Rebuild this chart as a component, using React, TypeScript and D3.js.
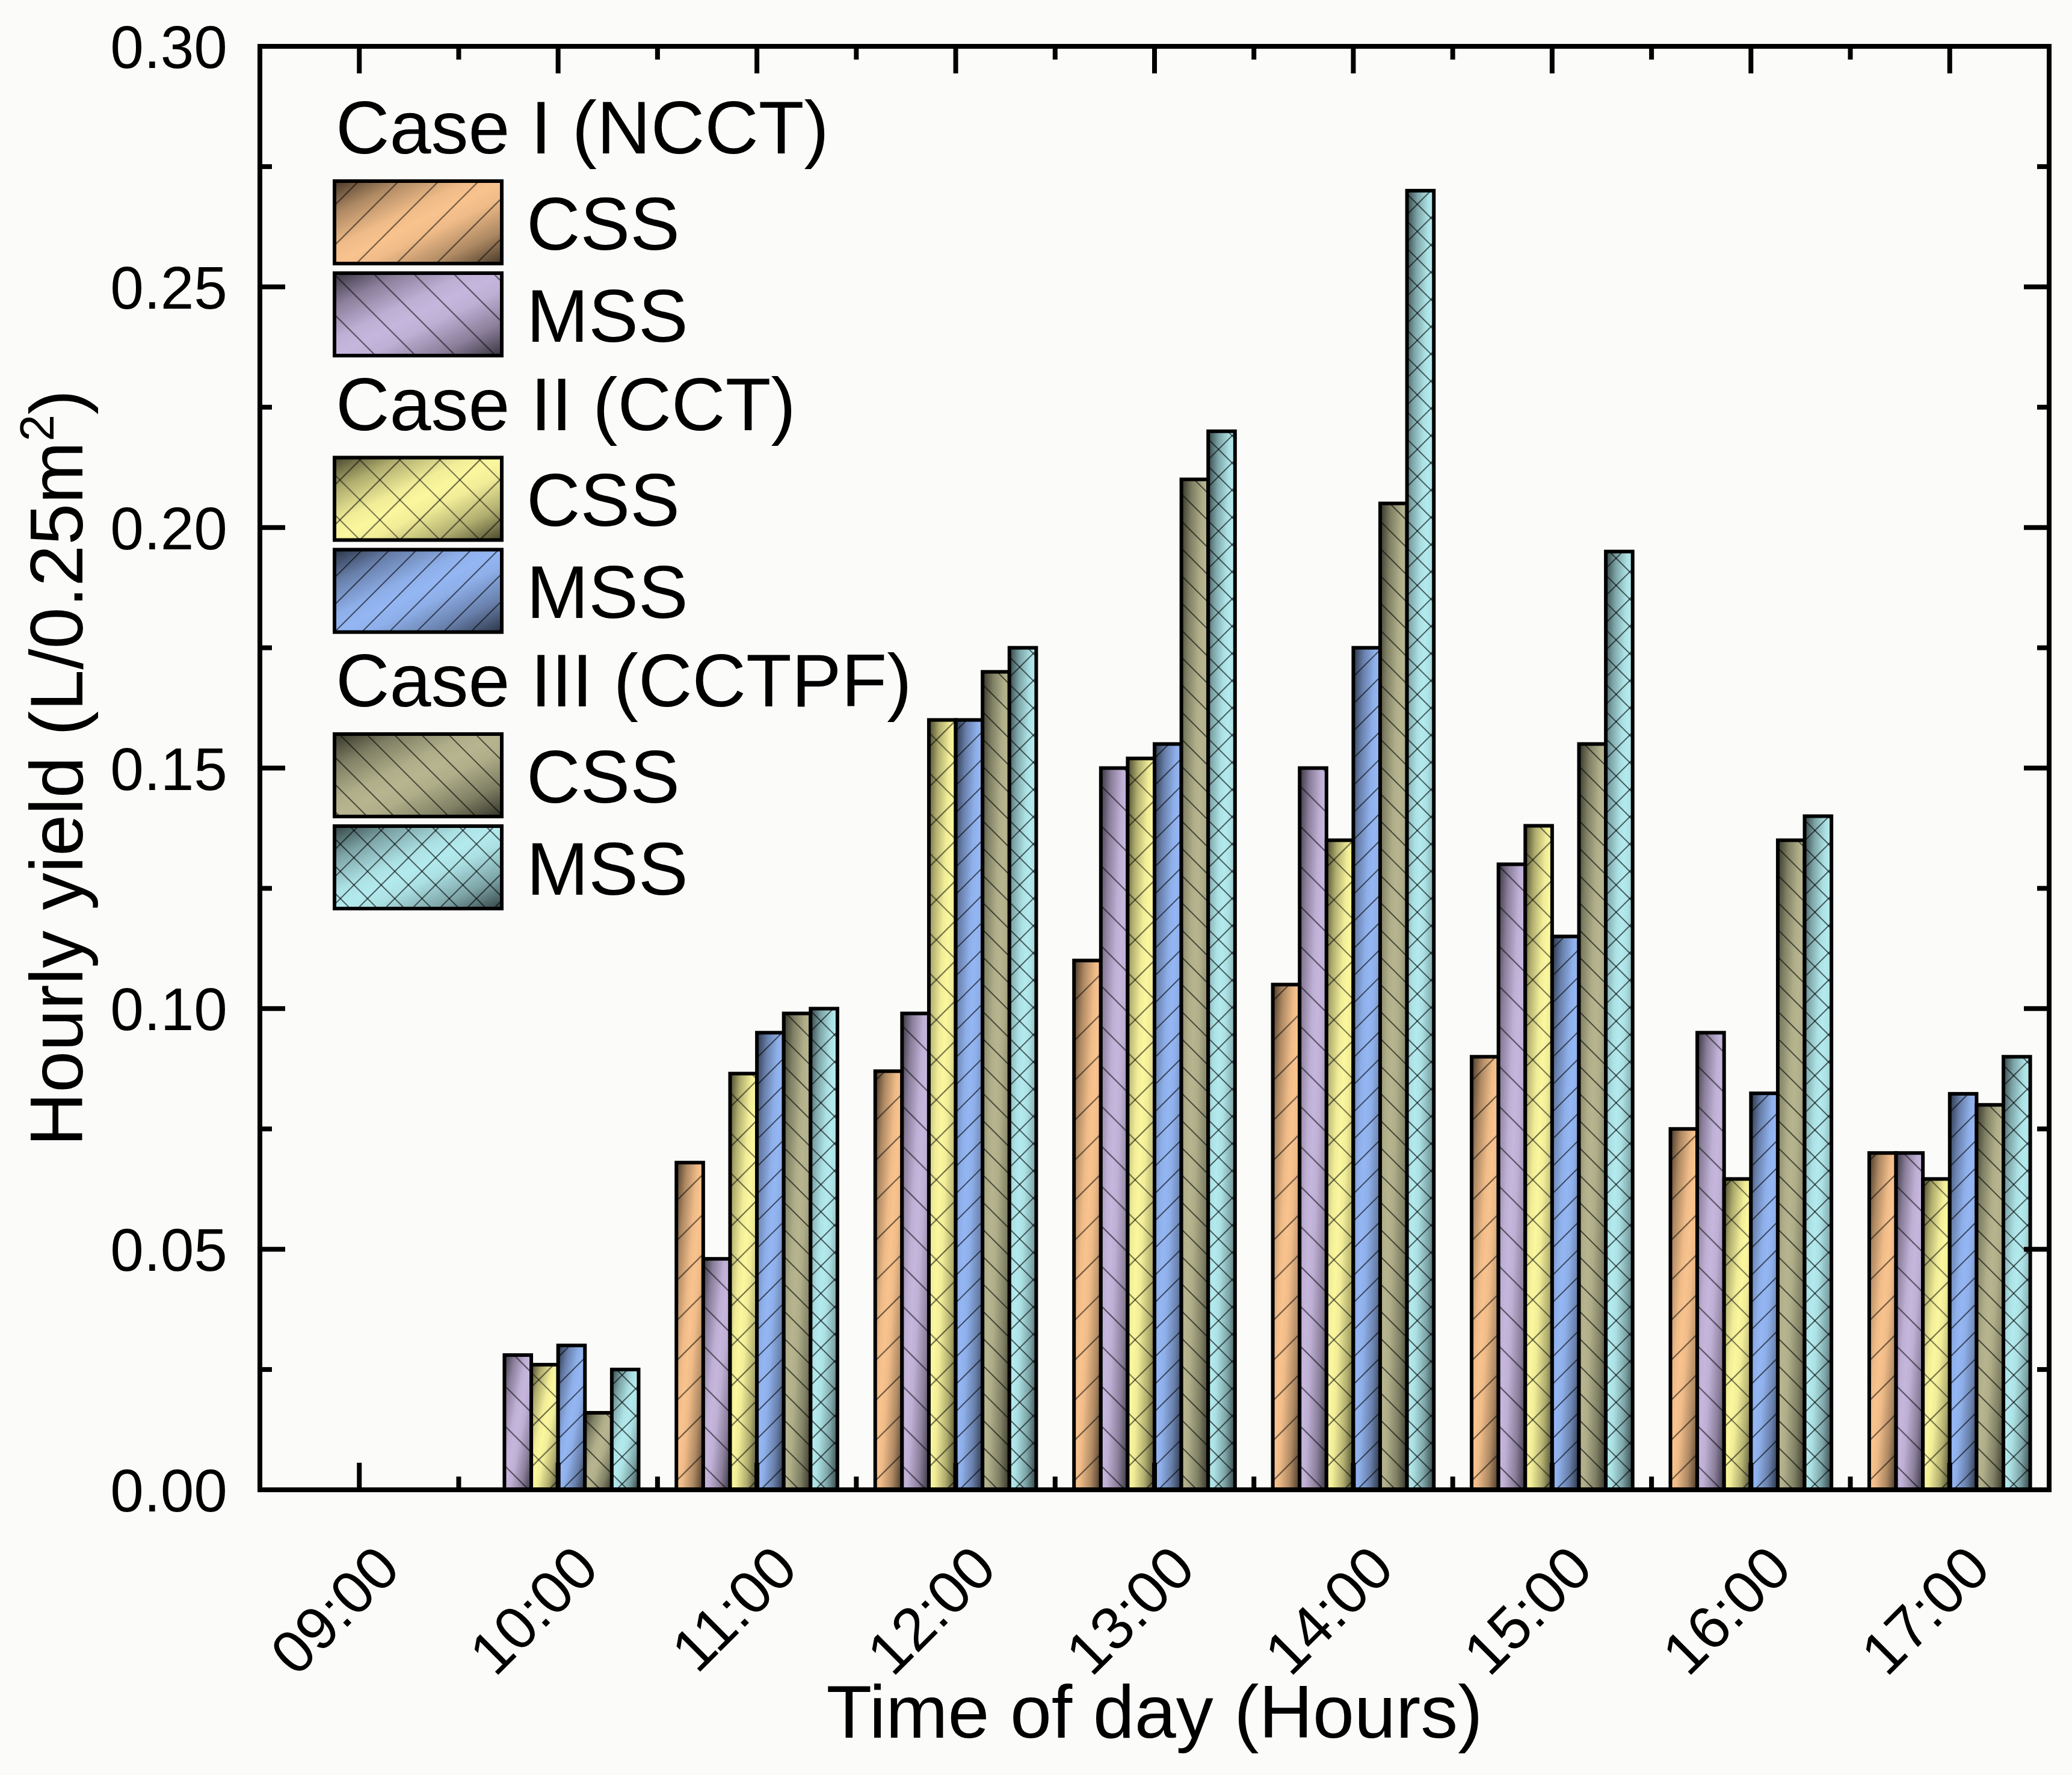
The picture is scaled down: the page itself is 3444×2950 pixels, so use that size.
import * as d3 from "d3";

// ── Data ──────────────────────────────────────────────

const hours = ["09:00", "10:00", "11:00", "12:00", "13:00", "14:00", "15:00", "16:00", "17:00"];

const cssNcct = [0, 0, 0.068, 0.087, 0.11, 0.105, 0.09, 0.075, 0.07];
const mssNcct = [0, 0.028, 0.048, 0.099, 0.15, 0.15, 0.13, 0.095, 0.07];
const cssCct = [0, 0.026, 0.0865, 0.16, 0.152, 0.135, 0.138, 0.0646, 0.0646];
const mssCct = [0, 0.03, 0.095, 0.16, 0.155, 0.175, 0.115, 0.0824, 0.0823];
const cssCctpf = [0, 0.016, 0.099, 0.17, 0.21, 0.205, 0.155, 0.135, 0.08];
const mssCctpf = [0, 0.025, 0.1, 0.175, 0.22, 0.27, 0.195, 0.14, 0.09];

const caseLabels = ["Case I (NCCT)", "Case II (CCT)", "Case III (CCTPF)"];

const yTickValues = [0, 0.05, 0.1, 0.15, 0.2, 0.25, 0.3];

// ── Series styling ────────────────────────────────────

type Hatch = "fwd" | "back" | "cross";

interface Series {
  key: string;
  label: string;
  group: number;
  values: number[];
  color: string;
  hatch: Hatch;
  gap: number;
}

const series: Series[] = [
  { key: "css1", label: "CSS", group: 0, values: cssNcct, color: "#f9c38e", hatch: "fwd", gap: 47 },
  { key: "mss1", label: "MSS", group: 0, values: mssNcct, color: "#c6b6dd", hatch: "back", gap: 47 },
  { key: "css2", label: "CSS", group: 1, values: cssCct, color: "#fbf79e", hatch: "cross", gap: 47 },
  { key: "mss2", label: "MSS", group: 1, values: mssCct, color: "#94b6f3", hatch: "fwd", gap: 32 },
  { key: "css3", label: "CSS", group: 2, values: cssCctpf, color: "#b6b58f", hatch: "back", gap: 32 },
  { key: "mss3", label: "MSS", group: 2, values: mssCctpf, color: "#b3eaee", hatch: "cross", gap: 32 },
];

// ── Layout ────────────────────────────────────────────

const W = 3444;
const H = 2950;
const M = { left: 432, right: 38, top: 77, bottom: 474 };
const FONT = "'Liberation Sans', Arial, Helvetica, sans-serif";

const x0 = d3.scaleBand<string>().domain(hours).range([M.left, W - M.right]).paddingInner(0).paddingOuter(0);
const band = x0.bandwidth();
const x1 = d3
  .scaleBand<string>()
  .domain(series.map((s) => s.key))
  .range([band * 0.095, band * 0.905]);
const y = d3.scaleLinear().domain([0, 0.3]).range([H - M.bottom, M.top]);

const darken = (c: string, k: number) => d3.interpolateRgb(c, "#000")(k);

// corner-to-corner shading: dark, light band, dark
const shade = [
  [0, 0.72],
  [0.2, 0.3],
  [0.4, 0.04],
  [0.5, 0],
  [0.6, 0.04],
  [0.8, 0.3],
  [1, 0.72],
];

function Defs() {
  return (
    <defs>
      {series.map((s) => (
        <linearGradient key={s.key} id={`g-${s.key}`} x1="0" y1="0" x2="1" y2="1">
          {shade.map(([o, k]) => (
            <stop key={o} offset={o} stopColor={darken(s.color, k)} />
          ))}
        </linearGradient>
      ))}
      {series.map((s) => (
        <pattern
          key={s.key}
          id={`p-${s.key}`}
          patternUnits="userSpaceOnUse"
          width={s.gap}
          height={s.gap}
          patternTransform={`rotate(${s.hatch === "back" ? -45 : 45})`}
        >
          <line x1={s.gap / 2} y1={0} x2={s.gap / 2} y2={s.gap} stroke="#000" strokeWidth={1.7} strokeOpacity={0.7} />
          {s.hatch === "cross" && (
            <line x1={0} y1={s.gap / 2} x2={s.gap} y2={s.gap / 2} stroke="#000" strokeWidth={1.7} strokeOpacity={0.7} />
          )}
        </pattern>
      ))}
    </defs>
  );
}

function FilledRect({ s, x, yy, w, h }: { s: Series; x: number; yy: number; w: number; h: number }) {
  return (
    <g>
      <rect x={x} y={yy} width={w} height={h} fill={`url(#g-${s.key})`} />
      <rect x={x} y={yy} width={w} height={h} fill={`url(#p-${s.key})`} />
      <rect x={x} y={yy} width={w} height={h} fill="none" stroke="#000" strokeWidth={6} />
    </g>
  );
}

function Bars() {
  return (
    <g>
      {hours.map((hr, i) => (
        <g key={hr} transform={`translate(${x0(hr)},0)`}>
          {series
            .filter((s) => s.values[i] > 0)
            .map((s) => (
              <FilledRect
                key={s.key}
                s={s}
                x={x1(s.key)!}
                yy={y(s.values[i])}
                w={x1.bandwidth()}
                h={y(0) - y(s.values[i])}
              />
            ))}
        </g>
      ))}
    </g>
  );
}

function Axes() {
  const left = M.left;
  const right = W - M.right;
  const top = M.top;
  const bottom = H - M.bottom;
  const minorY = yTickValues.slice(0, -1).map((v) => v + 0.025);
  const bounds = hours.slice(1).map((h) => x0(h)!);
  return (
    <g stroke="#000" strokeWidth={8}>
      {yTickValues.map((v) => (
        <g key={v}>
          <line x1={left} x2={left + 42} y1={y(v)} y2={y(v)} />
          <line x1={right} x2={right - 42} y1={y(v)} y2={y(v)} />
        </g>
      ))}
      {minorY.map((v) => (
        <g key={v}>
          <line x1={left} x2={left + 20} y1={y(v)} y2={y(v)} />
          <line x1={right} x2={right - 20} y1={y(v)} y2={y(v)} />
        </g>
      ))}
      {hours.map((h) => {
        const cx = x0(h)! + band / 2;
        return (
          <g key={h}>
            <line x1={cx} x2={cx} y1={bottom} y2={bottom - 45} />
            <line x1={cx} x2={cx} y1={top} y2={top + 45} />
          </g>
        );
      })}
      {bounds.map((bx) => (
        <g key={bx}>
          <line x1={bx} x2={bx} y1={bottom} y2={bottom - 22} />
          <line x1={bx} x2={bx} y1={top} y2={top + 22} />
        </g>
      ))}
      <rect x={left} y={top} width={right - left} height={bottom - top} fill="none" strokeLinejoin="miter" />
    </g>
  );
}

function Labels() {
  const fmt = d3.format(".2f");
  const bottom = H - M.bottom;
  const midY = (M.top + bottom) / 2;
  const midX = (M.left + W - M.right) / 2;
  return (
    <g fontFamily={FONT} fill="#000">
      {yTickValues.map((v) => (
        <text key={v} x={378} y={y(v) + 36} fontSize={100} textAnchor="end">
          {fmt(v)}
        </text>
      ))}
      {hours.map((h) => {
        const cx = x0(h)! + band / 2;
        return (
          <text
            key={h}
            fontSize={100}
            textAnchor="end"
            transform={`translate(${cx + 72},${bottom + 136}) rotate(-45)`}
          >
            {h}
          </text>
        );
      })}
      <text x={midX} y={2888} fontSize={124} textAnchor="middle">
        Time of day (Hours)
      </text>
      <text transform={`translate(137,${midY}) rotate(-90)`} fontSize={124} textAnchor="middle">
        Hourly yield (L/0.25m
        <tspan fontSize={80} dy={-48}>
          2
        </tspan>
        <tspan dy={48}>)</tspan>
      </text>
    </g>
  );
}

function Legend() {
  const left = 556;
  const sw = 278;
  const sh = 137;
  return (
    <g fontFamily={FONT} fill="#000">
      {caseLabels.map((c, g) => {
        const base = 255 + g * 459.5;
        return (
          <g key={c}>
            <text x={left + 2} y={base} fontSize={124}>
              {c}
            </text>
            {series
              .filter((s) => s.group === g)
              .map((s, k) => {
                const top = base + 46 + k * 153;
                return (
                  <g key={s.key}>
                    <FilledRect s={s} x={left} yy={top} w={sw} h={sh} />
                    <text x={left + 319} y={top + sh / 2 + 45} fontSize={124}>
                      {s.label}
                    </text>
                  </g>
                );
              })}
          </g>
        );
      })}
    </g>
  );
}

export default function App() {
  return (
    <div style={{ position: "absolute", left: 0, top: 0 }}>
      <svg width={W} height={H} viewBox={`0 0 ${W} ${H}`} style={{ display: "block", background: "#fbfbf9" }}>
        <Defs />
        <Bars />
        <Legend />
        <Axes />
        <Labels />
      </svg>
    </div>
  );
}
